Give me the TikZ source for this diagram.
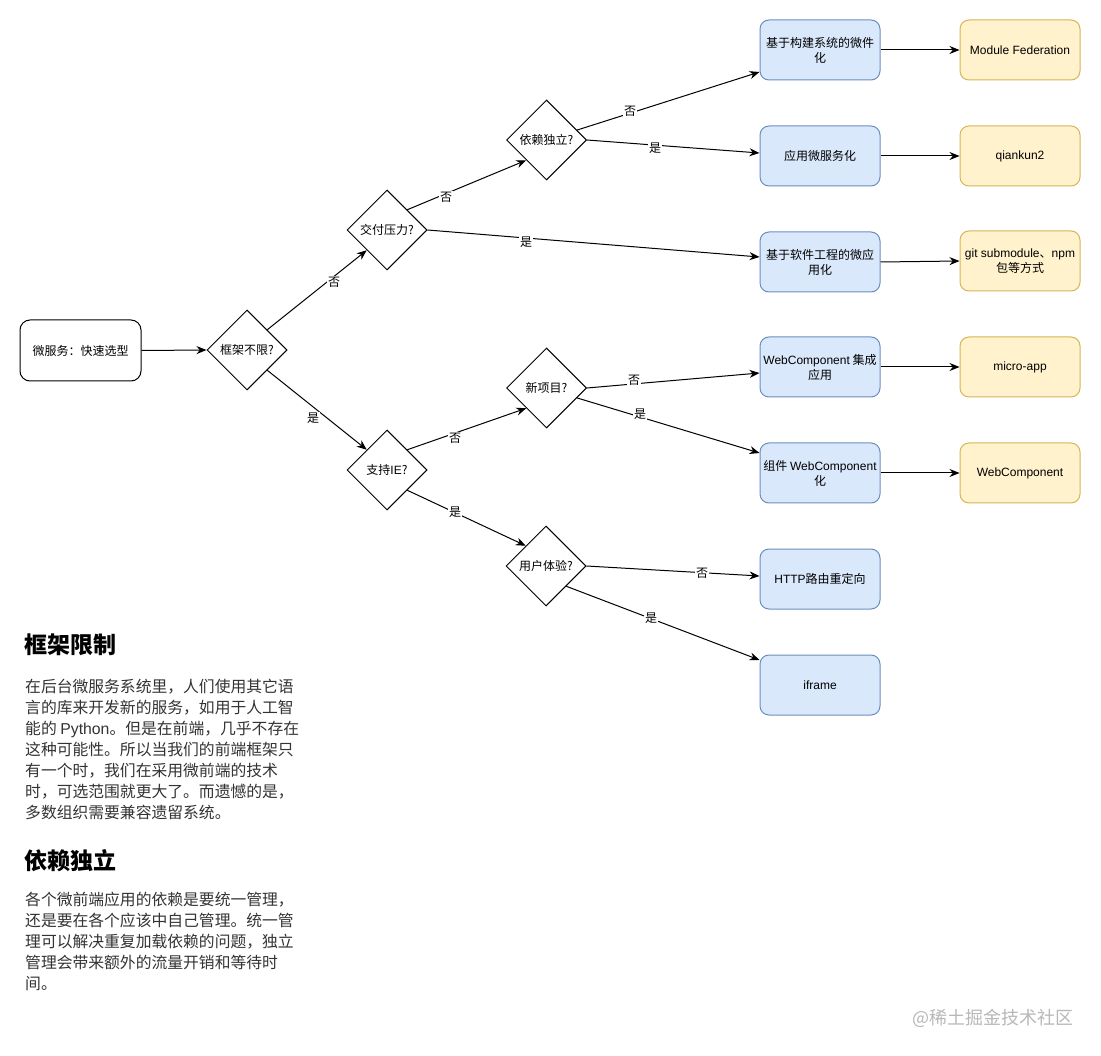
\documentclass[tikz,border=0pt]{standalone}
\usepackage{fontspec}
\setmainfont{Noto Sans CJK SC}
\newfontfamily\lat{Liberation Sans}
\usetikzlibrary{shapes.geometric,arrows.meta,calc}
\definecolor{bluefill}{HTML}{DAE8FC}
\definecolor{bluedraw}{HTML}{6C8EBF}
\definecolor{yelfill}{HTML}{FFF2CC}
\definecolor{yeldraw}{HTML}{D6B656}
\definecolor{paratext}{HTML}{333333}
\definecolor{wmark}{HTML}{B8B8B8}
\newcommand{\nodefont}{\fontsize{12}{15}\selectfont}
\tikzset{
  startbox/.style={draw, line width=1pt, rounded corners=10pt, minimum width=121pt, minimum height=61pt, font=\nodefont, inner sep=2pt},
  decision/.style={diamond, draw, line width=1pt, aspect=1, minimum width=80pt, minimum height=80pt, inner sep=0pt, font=\nodefont},
  solbox/.style={draw=bluedraw, fill=bluefill, line width=1pt, rounded corners=9pt, minimum width=120pt, minimum height=60pt, align=center, inner sep=2pt, font=\nodefont},
  libbox/.style={draw=yeldraw, fill=yelfill, line width=1pt, rounded corners=9pt, minimum width=120pt, minimum height=60pt, align=center, inner sep=2pt, font=\nodefont},
  conn/.style={draw, line width=1pt, -{Stealth[length=10pt,width=8pt]}},
  elabel/.style={fill=white, inner sep=1pt, font=\nodefont},
  heading/.style={font=\fontsize{23}{27}\selectfont\bfseries, inner sep=0pt, anchor=west},
  para/.style={font=\fontsize{15.8}{21}\selectfont, text=paratext, align=left, inner sep=0pt, anchor=north west}
}
\begin{document}
\begin{tikzpicture}[x=1pt,y=-1pt]
\useasboundingbox[fill=white] (0,0) rectangle (1101,1056);

% start and decisions
\node[startbox] (start) at (80.5,350.5) {微服务：快速选型};
\node[decision] (d1) at (247,350) {框架不限?};
\node[decision] (d2) at (387,230) {交付压力?};
\node[decision] (d3) at (546.5,140) {依赖独立?};
\node[decision] (d4) at (387,470) {支持{\lat IE}?};
\node[decision] (d5) at (546.5,388) {新项目?};
\node[decision] (d6) at (546,566) {用户体验?};

% solution boxes
\node[solbox] (b1) at (820,50) {基于构建系统的微件\\化};
\node[solbox] (b2) at (820,156) {应用微服务化};
\node[solbox] (b3) at (820,262) {基于软件工程的微应\\用化};
\node[solbox] (b4) at (820,367) {{\lat WebComponent} 集成\\应用};
\node[solbox] (b5) at (820,473) {组件 {\lat WebComponent}\\化};
\node[solbox] (b6) at (820,579) {{\lat HTTP}路由重定向};
\node[solbox] (b7) at (820,685) {{\lat iframe}};

% library boxes
\node[libbox] (y1) at (1020,50) {{\lat Module Federation}};
\node[libbox] (y2) at (1020,156) {{\lat qiankun2}};
\node[libbox] (y3) at (1020,261) {{\lat git submodule}、{\lat npm}\\包等方式};
\node[libbox] (y4) at (1020,367) {{\lat micro-app}};
\node[libbox] (y5) at (1020,473) {{\lat WebComponent}};

% connectors
\draw[conn] (start.east) -- (d1.west);
\draw[conn] (d1.north east) -- (d2.south west);
\draw[conn] (d1.south east) -- (d4.north west);
\draw[conn] (d2.north east) -- (d3.south west);
\draw[conn] (d2.east) -- ($(b3.west)+(0,-5)$);
\draw[conn] (d3.18) -- ($(b1.west)+(0,22)$);
\draw[conn] (d3.east) -- ($(b2.west)+(0,-3)$);
\draw[conn] (d4.north east) -- (d5.south west);
\draw[conn] (d4.south east) -- (d6.north west);
\draw[conn] (d5.east) -- ($(b4.west)+(0,6)$);
\draw[conn] (d5.-18) -- ($(b5.west)+(0,-20)$);
\draw[conn] (d6.east) -- ($(b6.west)+(0,-3)$);
\draw[conn] (d6.south east) -- ($(b7.west)+(0,-25)$);

\draw[conn] (b1.east) -- (y1.west);
\draw[conn] (b2.east) -- (y2.west);
\draw[conn] (b3.east) -- (y3.west);
\draw[conn] (b4.east) -- (y4.west);
\draw[conn] (b5.east) -- (y5.west);

% edge labels
\node[elabel] (l1) at (334,282) {否};
\node[elabel] (l2) at (313,418) {是};
\node[elabel] (l3) at (446,197) {否};
\node[elabel] (l4) at (526,242) {是};
\node[elabel] (l5) at (630,111) {否};
\node[elabel] (l6) at (655,148) {是};
\node[elabel] (l7) at (634,380) {否};
\node[elabel] (l8) at (640,414) {是};
\node[elabel] (l9) at (455,438) {否};
\node[elabel] (l10) at (455,512) {是};
\node[elabel] (l11) at (702,573) {否};
\node[elabel] (l12) at (651,618) {是};

% text blocks
\node[heading] (h1) at (24,645) {框架限制};
\node[para] (p1) at (25,678.5) {在后台微服务系统里，人们使用其它语\\
言的库来开发新的服务，如用于人工智\\
能的 {\lat Python}。但是在前端，几乎不存在\\
这种可能性。所以当我们的前端框架只\\
有一个时，我们在采用微前端的技术\\
时，可选范围就更大了。而遗憾的是，\\
多数组织需要兼容遗留系统。};

\node[heading] (h2) at (24,861) {依赖独立};
\node[para] (p2) at (25,891.5) {各个微前端应用的依赖是要统一管理，\\
还是要在各个应该中自己管理。统一管\\
理可以解决重复加载依赖的问题，独立\\
管理会带来额外的流量开销和等待时\\
间。};

\node[font=\fontsize{18}{21}\selectfont, text=wmark, anchor=east, inner sep=0pt] (wm) at (1074,1018) {@稀土掘金技术社区};
\end{tikzpicture}
\end{document}
